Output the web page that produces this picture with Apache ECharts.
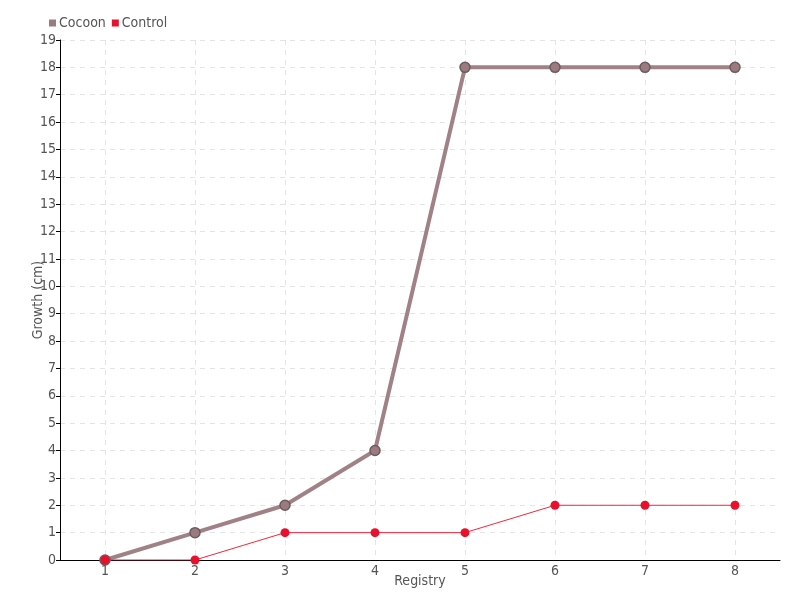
<!DOCTYPE html>
<html>
<head>
<meta charset="utf-8">
<script src="https://cdn.jsdelivr.net/npm/echarts@6/dist/echarts.min.js"></script>
<style>
  html, body { margin: 0; padding: 0; background: #fff; }
  #main { width: 800px; height: 600px; }
</style>
</head>
<body>
<div id="main"></div>
<script>
// data
const registry = ['1', '2', '3', '4', '5', '6', '7', '8'];
const cocoon = [0, 1, 2, 4, 18, 18, 18, 18];
const control = [0, 0, 1, 1, 1, 2, 2, 2];

const font = "'DejaVu Sans Condensed', 'Liberation Sans Narrow', sans-serif";
const labelColor = '#555';

let chart = echarts.init(document.getElementById('main'));
let option = {
    animation: false,
    textStyle: { fontFamily: font },
    legend: {
        left: 44,
        top: 11,
        itemWidth: 7,
        itemHeight: 7,
        itemGap: 6,
        icon: 'rect',
        itemStyle: { borderWidth: 0 },
        textStyle: { color: labelColor, fontSize: 14, fontFamily: font, padding: [0, 0, 0, -2] },
        data: ['Cocoon', 'Control']
    },
    grid: { left: 60, right: 20, top: 40, bottom: 40 },
    xAxis: {
        type: 'category',
        data: registry,
        name: 'Registry',
        nameLocation: 'middle',
        nameGap: 14,
        nameMoveOverlap: false,
        nameTextStyle: { color: labelColor, fontSize: 14 },
        axisLine: { lineStyle: { color: '#000' } },
        axisTick: { alignWithLabel: true, length: 4, lineStyle: { color: '#000' } },
        axisLabel: { color: labelColor, fontSize: 14, margin: 4 },
        splitLine: { show: true, alignWithLabel: true, lineStyle: { color: '#e4e4e4', type: [5, 5] } }
    },
    yAxis: {
        type: 'value',
        min: 0,
        max: 19,
        interval: 1,
        name: 'Growth (cm)',
        nameLocation: 'middle',
        nameGap: 15,
        nameMoveOverlap: false,
        nameTextStyle: { color: labelColor, fontSize: 14 },
        axisLine: { show: true, lineStyle: { color: '#000' } },
        axisTick: { show: true, length: 4, lineStyle: { color: '#000' } },
        axisLabel: { color: labelColor, fontSize: 14, margin: 4 },
        splitLine: { lineStyle: { color: '#e4e4e4', type: [5, 5] } }
    },
    series: [
        {
            name: 'Cocoon',
            type: 'line',
            data: cocoon,
            symbol: 'circle',
            symbolSize: 10,
            lineStyle: { width: 4, color: '#a08286' },
            itemStyle: { color: '#9a7c80', borderColor: '#6e5a5e', borderWidth: 1.5 },
            z: 2
        },
        {
            name: 'Control',
            type: 'line',
            data: control,
            symbol: 'circle',
            symbolSize: 9,
            lineStyle: { width: 1, color: '#f0283c' },
            itemStyle: { color: '#e8112d' },
            z: 3
        }
    ]
};
chart.setOption(option);
</script>
</body>
</html>
